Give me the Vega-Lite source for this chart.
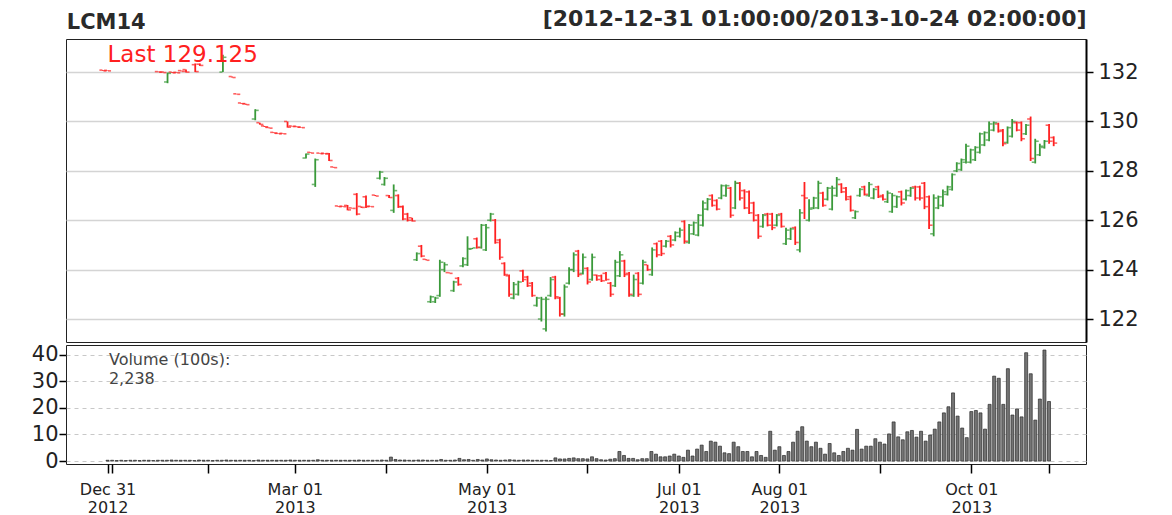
{
"$schema": "https://vega.github.io/schema/vega-lite/v6.json",
"background": "white",
"padding": {"left": 30, "top": 6, "right": 4, "bottom": 0},
"config": {"view": {"stroke": "#222", "strokeWidth": 1}, "font": "DejaVu Sans", "concat": {"spacing": 0}},
"title": {"text": "LCM14", "anchor": "start", "fontSize": 21, "fontWeight": "bold", "color": "#2a2a2a", "font": "DejaVu Sans", "dx": 36, "dy": 30},
"spacing": 0,
"datasets": {
"ta": [{"i": 1, "y": 132.69, "t": "Last 129.125"}],
"tb": [{"i": 0.3, "y": 40.8, "t": "Volume (100s):\n2,238"}],
"p": [
{"i":0,"o":132.08,"h":132.08,"l":132.05,"c":132.05,"v":0.3},
{"i":1,"o":132.07,"h":132.07,"l":132.05,"c":132.05,"v":0.3},
{"i":2,"o":null,"h":null,"l":null,"c":null,"v":0.2},
{"i":3,"o":null,"h":null,"l":null,"c":null,"v":0.3},
{"i":4,"o":null,"h":null,"l":null,"c":null,"v":0.2},
{"i":5,"o":null,"h":null,"l":null,"c":null,"v":0.3},
{"i":6,"o":null,"h":null,"l":null,"c":null,"v":0.3},
{"i":7,"o":null,"h":null,"l":null,"c":null,"v":0.2},
{"i":8,"o":null,"h":null,"l":null,"c":null,"v":0.3},
{"i":9,"o":null,"h":null,"l":null,"c":null,"v":0.3},
{"i":10,"o":null,"h":null,"l":null,"c":null,"v":0.2},
{"i":11,"o":null,"h":null,"l":null,"c":null,"v":0.3},
{"i":12,"o":132.02,"h":132.02,"l":132.0,"c":132.0,"v":0.3},
{"i":13,"o":132.0,"h":132.02,"l":131.98,"c":131.98,"v":0.3},
{"i":14,"o":131.6,"h":131.98,"l":131.55,"c":131.95,"v":0.4},
{"i":15,"o":132.0,"h":132.0,"l":131.97,"c":131.97,"v":0.3},
{"i":16,"o":131.99,"h":131.99,"l":131.97,"c":131.97,"v":0.3},
{"i":17,"o":132.06,"h":132.06,"l":132.03,"c":132.03,"v":0.3},
{"i":18,"o":132.1,"h":132.1,"l":131.98,"c":132.0,"v":0.3},
{"i":19,"o":null,"h":null,"l":null,"c":null,"v":0.2},
{"i":20,"o":132.3,"h":132.35,"l":132.0,"c":132.02,"v":0.4},
{"i":21,"o":132.32,"h":132.35,"l":132.25,"c":132.27,"v":0.3},
{"i":22,"o":null,"h":null,"l":null,"c":null,"v":0.3},
{"i":23,"o":null,"h":null,"l":null,"c":null,"v":0.2},
{"i":24,"o":null,"h":null,"l":null,"c":null,"v":0.3},
{"i":25,"o":null,"h":null,"l":null,"c":null,"v":0.3},
{"i":26,"o":132.0,"h":132.7,"l":132.0,"c":132.6,"v":0.4},
{"i":27,"o":null,"h":null,"l":null,"c":null,"v":0.3},
{"i":28,"o":131.82,"h":131.82,"l":131.78,"c":131.78,"v":0.3},
{"i":29,"o":131.12,"h":131.12,"l":131.1,"c":131.1,"v":0.3},
{"i":30,"o":130.75,"h":130.75,"l":130.72,"c":130.72,"v":0.3},
{"i":31,"o":130.72,"h":130.72,"l":130.68,"c":130.68,"v":0.3},
{"i":32,"o":null,"h":null,"l":null,"c":null,"v":0.2},
{"i":33,"o":130.1,"h":130.5,"l":130.05,"c":130.45,"v":0.4},
{"i":34,"o":129.95,"h":129.95,"l":129.87,"c":129.88,"v":0.3},
{"i":35,"o":129.82,"h":129.82,"l":129.78,"c":129.78,"v":0.3},
{"i":36,"o":129.76,"h":129.76,"l":129.73,"c":129.73,"v":0.3},
{"i":37,"o":129.56,"h":129.56,"l":129.53,"c":129.53,"v":0.3},
{"i":38,"o":129.52,"h":129.52,"l":129.5,"c":129.5,"v":0.3},
{"i":39,"o":129.52,"h":129.52,"l":129.5,"c":129.5,"v":0.3},
{"i":40,"o":130.0,"h":130.0,"l":129.75,"c":129.77,"v":0.4},
{"i":41,"o":129.82,"h":129.82,"l":129.8,"c":129.8,"v":0.3},
{"i":42,"o":129.8,"h":129.8,"l":129.77,"c":129.77,"v":0.3},
{"i":43,"o":129.77,"h":129.77,"l":129.75,"c":129.75,"v":0.3},
{"i":44,"o":128.52,"h":128.7,"l":128.5,"c":128.68,"v":0.3},
{"i":45,"o":128.75,"h":128.75,"l":128.72,"c":128.72,"v":0.3},
{"i":46,"o":127.45,"h":128.5,"l":127.35,"c":128.45,"v":0.5},
{"i":47,"o":128.72,"h":128.72,"l":128.7,"c":128.7,"v":0.3},
{"i":48,"o":128.71,"h":128.71,"l":128.69,"c":128.69,"v":0.3},
{"i":49,"o":128.7,"h":128.72,"l":128.4,"c":128.42,"v":0.3},
{"i":50,"o":128.16,"h":128.16,"l":128.13,"c":128.13,"v":0.3},
{"i":51,"o":126.58,"h":126.58,"l":126.55,"c":126.55,"v":0.3},
{"i":52,"o":126.57,"h":126.57,"l":126.55,"c":126.55,"v":0.3},
{"i":53,"o":126.6,"h":126.62,"l":126.4,"c":126.42,"v":0.3},
{"i":54,"o":126.5,"h":126.5,"l":126.48,"c":126.48,"v":0.3},
{"i":55,"o":127.05,"h":127.1,"l":126.2,"c":126.25,"v":0.4},
{"i":56,"o":126.56,"h":126.56,"l":126.5,"c":126.52,"v":0.3},
{"i":57,"o":126.95,"h":127.0,"l":126.5,"c":126.55,"v":0.3},
{"i":58,"o":126.57,"h":126.57,"l":126.55,"c":126.55,"v":0.3},
{"i":59,"o":127.02,"h":127.02,"l":126.98,"c":126.98,"v":0.3},
{"i":60,"o":127.7,"h":128.0,"l":127.65,"c":127.95,"v":0.4},
{"i":61,"o":127.45,"h":127.75,"l":127.4,"c":127.7,"v":0.3},
{"i":62,"o":127.0,"h":127.02,"l":126.9,"c":126.92,"v":1.5},
{"i":63,"o":126.4,"h":127.45,"l":126.3,"c":127.2,"v":0.6},
{"i":64,"o":127.0,"h":127.05,"l":126.5,"c":126.55,"v":0.4},
{"i":65,"o":126.55,"h":126.6,"l":126.0,"c":126.05,"v":0.4},
{"i":66,"o":126.25,"h":126.3,"l":125.95,"c":126.0,"v":0.3},
{"i":67,"o":126.1,"h":126.1,"l":125.95,"c":125.97,"v":0.3},
{"i":68,"o":124.4,"h":124.7,"l":124.35,"c":124.65,"v":0.4},
{"i":69,"o":124.95,"h":125.0,"l":124.5,"c":124.55,"v":0.4},
{"i":70,"o":124.42,"h":124.42,"l":124.38,"c":124.38,"v":0.3},
{"i":71,"o":122.7,"h":122.95,"l":122.65,"c":122.9,"v":0.3},
{"i":72,"o":122.7,"h":122.9,"l":122.65,"c":122.85,"v":0.3},
{"i":73,"o":122.95,"h":124.4,"l":122.9,"c":124.3,"v":0.6},
{"i":74,"o":124.0,"h":124.3,"l":123.9,"c":124.2,"v":0.3},
{"i":75,"o":123.88,"h":123.88,"l":123.85,"c":123.85,"v":0.3},
{"i":76,"o":123.15,"h":123.55,"l":123.1,"c":123.5,"v":0.4},
{"i":77,"o":123.65,"h":123.7,"l":123.35,"c":123.4,"v":1.0},
{"i":78,"o":124.15,"h":124.5,"l":124.1,"c":124.45,"v":0.5},
{"i":79,"o":124.2,"h":125.35,"l":124.15,"c":124.85,"v":0.6},
{"i":80,"o":124.83,"h":124.88,"l":124.83,"c":124.88,"v":0.3},
{"i":81,"o":125.25,"h":125.3,"l":124.85,"c":124.9,"v":0.6},
{"i":82,"o":124.9,"h":125.85,"l":124.85,"c":125.8,"v":0.4},
{"i":83,"o":124.8,"h":125.85,"l":124.75,"c":125.7,"v":0.8},
{"i":84,"o":126.0,"h":126.3,"l":125.95,"c":126.25,"v":0.5},
{"i":85,"o":126.0,"h":126.05,"l":125.05,"c":125.1,"v":0.4},
{"i":86,"o":125.2,"h":125.25,"l":124.4,"c":124.5,"v":0.3},
{"i":87,"o":124.25,"h":124.3,"l":123.75,"c":123.8,"v":0.4},
{"i":88,"o":123.75,"h":123.8,"l":122.9,"c":123.0,"v":0.5},
{"i":89,"o":122.85,"h":123.5,"l":122.8,"c":123.4,"v":0.4},
{"i":90,"o":123.0,"h":123.55,"l":122.95,"c":123.5,"v":0.3},
{"i":91,"o":123.95,"h":124.0,"l":123.5,"c":123.6,"v":0.4},
{"i":92,"o":123.7,"h":123.75,"l":123.3,"c":123.35,"v":0.4},
{"i":93,"o":123.45,"h":123.5,"l":122.9,"c":122.95,"v":0.3},
{"i":94,"o":122.55,"h":122.9,"l":122.5,"c":122.85,"v":0.3},
{"i":95,"o":122.0,"h":122.9,"l":121.9,"c":122.8,"v":0.3},
{"i":96,"o":121.6,"h":122.9,"l":121.5,"c":122.8,"v":0.3},
{"i":97,"o":122.95,"h":123.7,"l":122.9,"c":123.6,"v":0.2},
{"i":98,"o":123.7,"h":123.75,"l":122.8,"c":122.9,"v":1.2},
{"i":99,"o":122.85,"h":122.9,"l":122.1,"c":122.2,"v":0.8},
{"i":100,"o":122.2,"h":123.4,"l":122.1,"c":123.3,"v":0.8},
{"i":101,"o":123.45,"h":124.1,"l":123.4,"c":124.0,"v":1.0},
{"i":102,"o":124.0,"h":124.7,"l":123.9,"c":124.6,"v":1.2},
{"i":103,"o":124.75,"h":124.8,"l":123.7,"c":123.8,"v":0.9},
{"i":104,"o":123.85,"h":124.65,"l":123.8,"c":124.5,"v":0.9},
{"i":105,"o":124.05,"h":124.1,"l":123.4,"c":123.5,"v":0.8},
{"i":106,"o":123.6,"h":124.65,"l":123.55,"c":124.5,"v":1.6},
{"i":107,"o":123.78,"h":123.8,"l":123.55,"c":123.6,"v":0.9},
{"i":108,"o":123.75,"h":123.8,"l":123.5,"c":123.55,"v":0.5},
{"i":109,"o":123.85,"h":123.9,"l":123.55,"c":123.6,"v":0.4},
{"i":110,"o":123.45,"h":123.5,"l":122.9,"c":123.0,"v":0.7},
{"i":111,"o":123.35,"h":124.4,"l":123.3,"c":124.3,"v":0.9},
{"i":112,"o":123.75,"h":124.75,"l":123.7,"c":124.6,"v":3.6},
{"i":113,"o":124.35,"h":124.4,"l":123.7,"c":123.8,"v":2.1},
{"i":114,"o":123.85,"h":123.9,"l":122.9,"c":123.0,"v":1.0},
{"i":115,"o":122.95,"h":123.8,"l":122.9,"c":123.6,"v":1.0},
{"i":116,"o":123.85,"h":123.9,"l":122.9,"c":123.0,"v":0.5},
{"i":117,"o":123.45,"h":124.4,"l":123.4,"c":124.3,"v":0.9},
{"i":118,"o":124.2,"h":124.2,"l":123.95,"c":124.0,"v":0.9},
{"i":119,"o":123.8,"h":124.9,"l":123.75,"c":124.8,"v":3.6},
{"i":120,"o":125.05,"h":125.1,"l":124.5,"c":124.6,"v":2.6},
{"i":121,"o":125.15,"h":125.2,"l":124.55,"c":124.65,"v":1.6},
{"i":122,"o":124.95,"h":125.2,"l":124.9,"c":125.15,"v":1.6},
{"i":123,"o":125.35,"h":125.4,"l":124.9,"c":125.0,"v":1.9},
{"i":124,"o":125.2,"h":125.55,"l":125.15,"c":125.5,"v":2.6},
{"i":125,"o":125.35,"h":125.7,"l":125.3,"c":125.6,"v":1.9},
{"i":126,"o":125.95,"h":126.0,"l":125.05,"c":125.15,"v":1.4},
{"i":127,"o":125.1,"h":125.85,"l":125.05,"c":125.8,"v":4.1},
{"i":128,"o":125.45,"h":125.95,"l":125.4,"c":125.9,"v":1.9},
{"i":129,"o":125.4,"h":126.25,"l":125.35,"c":126.2,"v":4.5},
{"i":130,"o":125.8,"h":126.8,"l":125.75,"c":126.7,"v":6.0},
{"i":131,"o":126.45,"h":126.9,"l":126.4,"c":126.85,"v":3.6},
{"i":132,"o":127.0,"h":127.05,"l":126.55,"c":126.6,"v":7.5},
{"i":133,"o":126.8,"h":126.85,"l":126.4,"c":126.45,"v":7.1},
{"i":134,"o":126.9,"h":127.45,"l":126.85,"c":127.4,"v":5.6},
{"i":135,"o":127.0,"h":127.45,"l":126.95,"c":127.4,"v":3.1},
{"i":136,"o":127.3,"h":127.35,"l":126.1,"c":126.2,"v":2.8},
{"i":137,"o":126.5,"h":127.6,"l":126.45,"c":127.5,"v":7.1},
{"i":138,"o":127.5,"h":127.55,"l":126.8,"c":126.9,"v":5.4},
{"i":139,"o":127.2,"h":127.25,"l":126.45,"c":126.5,"v":3.6},
{"i":140,"o":127.15,"h":127.2,"l":126.25,"c":126.3,"v":3.6},
{"i":141,"o":126.7,"h":126.75,"l":125.95,"c":126.0,"v":1.6},
{"i":142,"o":126.2,"h":126.25,"l":125.25,"c":125.35,"v":3.6},
{"i":143,"o":125.75,"h":126.25,"l":125.7,"c":126.2,"v":2.1},
{"i":144,"o":126.25,"h":126.3,"l":125.75,"c":125.8,"v":1.4},
{"i":145,"o":126.25,"h":126.3,"l":125.6,"c":125.7,"v":11.2},
{"i":146,"o":125.8,"h":126.25,"l":125.75,"c":126.2,"v":4.1},
{"i":147,"o":126.25,"h":126.3,"l":125.7,"c":125.75,"v":5.4},
{"i":148,"o":125.05,"h":125.7,"l":125.0,"c":125.6,"v":2.1},
{"i":149,"o":125.25,"h":125.7,"l":125.2,"c":125.65,"v":3.6},
{"i":150,"o":125.7,"h":125.75,"l":125.0,"c":125.1,"v":7.1},
{"i":151,"o":124.8,"h":126.45,"l":124.7,"c":126.3,"v":11.2},
{"i":152,"o":127.0,"h":127.55,"l":126.05,"c":126.9,"v":12.9},
{"i":153,"o":126.0,"h":126.85,"l":125.95,"c":126.45,"v":7.5},
{"i":154,"o":126.5,"h":126.95,"l":126.45,"c":126.9,"v":5.4},
{"i":155,"o":126.5,"h":127.6,"l":126.45,"c":127.5,"v":7.1},
{"i":156,"o":127.1,"h":127.15,"l":126.55,"c":126.6,"v":4.8},
{"i":157,"o":126.85,"h":127.35,"l":126.8,"c":127.3,"v":2.6},
{"i":158,"o":126.45,"h":127.4,"l":126.4,"c":127.3,"v":6.6},
{"i":159,"o":127.0,"h":127.75,"l":126.95,"c":127.65,"v":3.1},
{"i":160,"o":127.45,"h":127.5,"l":127.1,"c":127.15,"v":2.1},
{"i":161,"o":127.3,"h":127.35,"l":126.8,"c":126.85,"v":3.6},
{"i":162,"o":126.95,"h":127.0,"l":126.35,"c":126.4,"v":4.8},
{"i":163,"o":126.1,"h":126.4,"l":126.05,"c":126.35,"v":4.1},
{"i":164,"o":127.0,"h":127.3,"l":126.95,"c":127.25,"v":11.9},
{"i":165,"o":127.35,"h":127.4,"l":127.0,"c":127.05,"v":4.5},
{"i":166,"o":127.0,"h":127.55,"l":126.95,"c":127.45,"v":5.6},
{"i":167,"o":126.9,"h":127.3,"l":126.85,"c":127.25,"v":5.6},
{"i":168,"o":127.35,"h":127.4,"l":126.9,"c":126.95,"v":8.4},
{"i":169,"o":127.0,"h":127.05,"l":126.8,"c":126.85,"v":7.1},
{"i":170,"o":126.75,"h":127.2,"l":126.7,"c":127.1,"v":6.4},
{"i":171,"o":126.35,"h":127.1,"l":126.3,"c":127.0,"v":10.2},
{"i":172,"o":126.55,"h":127.0,"l":126.5,"c":126.95,"v":14.7},
{"i":173,"o":127.15,"h":127.2,"l":126.6,"c":126.7,"v":9.1},
{"i":174,"o":126.85,"h":127.25,"l":126.8,"c":127.2,"v":8.0},
{"i":175,"o":127.0,"h":127.35,"l":126.95,"c":127.3,"v":11.0},
{"i":176,"o":127.35,"h":127.4,"l":126.8,"c":126.9,"v":11.5},
{"i":177,"o":127.35,"h":127.4,"l":126.8,"c":126.9,"v":9.0},
{"i":178,"o":127.5,"h":127.55,"l":126.45,"c":126.55,"v":11.2},
{"i":179,"o":126.95,"h":127.0,"l":125.65,"c":125.8,"v":7.5},
{"i":180,"o":125.45,"h":127.05,"l":125.35,"c":126.9,"v":9.8},
{"i":181,"o":126.5,"h":127.0,"l":126.45,"c":126.95,"v":12.0},
{"i":182,"o":126.6,"h":127.25,"l":126.55,"c":127.15,"v":14.7},
{"i":183,"o":127.05,"h":127.4,"l":127.0,"c":127.35,"v":18.1},
{"i":184,"o":127.25,"h":127.9,"l":127.2,"c":127.85,"v":20.4},
{"i":185,"o":128.0,"h":128.35,"l":127.95,"c":128.3,"v":25.6},
{"i":186,"o":128.05,"h":128.5,"l":128.0,"c":128.45,"v":16.9},
{"i":187,"o":128.35,"h":129.1,"l":128.3,"c":129.0,"v":12.4},
{"i":188,"o":128.35,"h":128.9,"l":128.3,"c":128.85,"v":8.8},
{"i":189,"o":128.45,"h":129.0,"l":128.4,"c":128.95,"v":18.6},
{"i":190,"o":128.75,"h":129.55,"l":128.7,"c":129.5,"v":19.0},
{"i":191,"o":129.05,"h":129.6,"l":129.0,"c":129.55,"v":18.1},
{"i":192,"o":129.25,"h":130.0,"l":129.2,"c":129.9,"v":12.0},
{"i":193,"o":129.65,"h":130.0,"l":129.6,"c":129.95,"v":21.3},
{"i":194,"o":129.9,"h":129.95,"l":129.55,"c":129.6,"v":31.9},
{"i":195,"o":129.65,"h":129.7,"l":129.0,"c":129.1,"v":31.1},
{"i":196,"o":129.15,"h":129.8,"l":129.1,"c":129.75,"v":21.3},
{"i":197,"o":129.4,"h":130.1,"l":129.35,"c":130.0,"v":34.7},
{"i":198,"o":129.95,"h":130.0,"l":129.6,"c":129.65,"v":17.3},
{"i":199,"o":129.95,"h":130.0,"l":129.2,"c":129.3,"v":19.6},
{"i":200,"o":129.5,"h":129.9,"l":129.45,"c":129.85,"v":16.6},
{"i":201,"o":130.1,"h":130.2,"l":128.4,"c":128.5,"v":40.7},
{"i":202,"o":128.35,"h":129.3,"l":128.3,"c":129.2,"v":32.8},
{"i":203,"o":128.65,"h":129.1,"l":128.6,"c":129.0,"v":15.4},
{"i":204,"o":128.95,"h":129.25,"l":128.9,"c":129.2,"v":23.3},
{"i":205,"o":129.85,"h":129.9,"l":129.1,"c":129.2,"v":41.7},
{"i":206,"o":129.35,"h":129.4,"l":129.0,"c":129.125,"v":22.38}
]
},
"vconcat": [
{
"width": 1020, "height": 303,
"layer": [
{"data": {"name": "p"}, "mark": {"type": "rule", "strokeWidth": 1.8},
 "encoding": {
  "x": {"field": "i", "type": "quantitative", "scale": {"domain": [-8, 213], "nice": false, "zero": false},
   "axis": {"orient": "top", "labels": false, "ticks": false, "domain": false, "grid": false, "title": "[2012-12-31 01:00:00/2013-10-24 02:00:00]", "titleAnchor": "end", "titleAlign": "right", "titleFontSize": 22, "titleFontWeight": "bold", "titleColor": "#2a2a2a", "titlePadding": 9, "titleFont": "DejaVu Sans"}},
  "y": {"field": "l", "type": "quantitative", "scale": {"domain": [121.07, 133.34], "nice": false, "zero": false},
   "axis": {"orient": "right", "values": [122, 124, 126, 128, 130, 132], "tickCount": 12, "grid": true, "gridColor": "#d4d4d4", "gridWidth": 1.5, "domain": true, "domainColor": "#000", "domainWidth": 2, "tickSize": 7, "tickColor": "#000", "tickWidth": 1.5, "labelFontSize": 21, "labelColor": "#222", "labelPadding": 5, "labelOverlap": false, "title": null}},
  "y2": {"field": "h"},
  "color": {"condition": {"test": "datum.c >= datum.o", "value": "#3a9a3a"}, "value": "#ff2020"}
 }},
{"data": {"name": "p"}, "mark": {"type": "tick", "orient": "horizontal", "size": 3, "thickness": 1.6, "xOffset": -2},
 "encoding": {
  "x": {"field": "i", "type": "quantitative"},
  "y": {"field": "o", "type": "quantitative"},
  "color": {"condition": {"test": "datum.c >= datum.o", "value": "#3a9a3a"}, "value": "#ff2020"}
 }},
{"data": {"name": "p"}, "mark": {"type": "tick", "orient": "horizontal", "size": 3, "thickness": 1.6, "xOffset": 2},
 "encoding": {
  "x": {"field": "i", "type": "quantitative"},
  "y": {"field": "c", "type": "quantitative"},
  "color": {"condition": {"test": "datum.c >= datum.o", "value": "#3a9a3a"}, "value": "#ff2020"}
 }},
{"data": {"name": "ta"}, "mark": {"type": "text", "align": "left", "baseline": "middle", "fontSize": 23, "color": "#ff2020", "font": "DejaVu Sans"},
 "encoding": {
  "x": {"field": "i", "type": "quantitative"},
  "y": {"field": "y", "type": "quantitative"},
  "text": {"field": "t"}
 }}
]
},
{
"width": 1020, "height": 119,
"layer": [
{"data": {"name": "p"}, "mark": {"type": "bar", "size": 3, "color": "#747474", "stroke": "#2a2a2a", "strokeWidth": 0.7},
 "encoding": {
  "x": {"field": "i", "type": "quantitative", "scale": {"domain": [-8, 213], "nice": false, "zero": false},
   "axis": {"orient": "bottom", "values": [0, 1, 22, 41, 61, 83, 105, 125, 147, 169, 189, 206], "tickCount": 30,
    "labelExpr": "datum.value == 0 ? ['Dec 31','2012'] : datum.value == 41 ? ['Mar 01','2013'] : datum.value == 83 ? ['May 01','2013'] : datum.value == 125 ? ['Jul 01','2013'] : datum.value == 147 ? ['Aug 01','2013'] : datum.value == 189 ? ['Oct 01','2013'] : ''",
    "tickSize": 9, "tickWidth": 1.5, "tickColor": "#000", "domain": false, "grid": false, "labelFontSize": 16, "labelColor": "#222", "labelPadding": 8, "labelLineHeight": 18.5, "labelOverlap": false, "labelFlush": false, "labelBound": false, "labelBaseline": "top", "title": null}},
  "y": {"field": "v", "type": "quantitative", "scale": {"domain": [-1.1, 43.6], "nice": false},
   "axis": {"orient": "left", "values": [0, 10, 20, 30, 40], "tickCount": 10, "grid": true, "gridDash": [4, 4], "gridColor": "#c8c8c8", "tickSize": 7, "tickColor": "#000", "tickWidth": 1.5, "domain": false, "labelFontSize": 21, "labelColor": "#222", "labelPadding": 1, "labelOverlap": false, "title": null}}
 }},
{"data": {"name": "tb"}, "mark": {"type": "text", "align": "left", "baseline": "top", "fontSize": 16, "color": "#444", "font": "DejaVu Sans", "lineBreak": "\n", "lineHeight": 18.5},
 "encoding": {
  "x": {"field": "i", "type": "quantitative"},
  "y": {"field": "y", "type": "quantitative"},
  "text": {"field": "t"}
 }}
]
}
]
}
